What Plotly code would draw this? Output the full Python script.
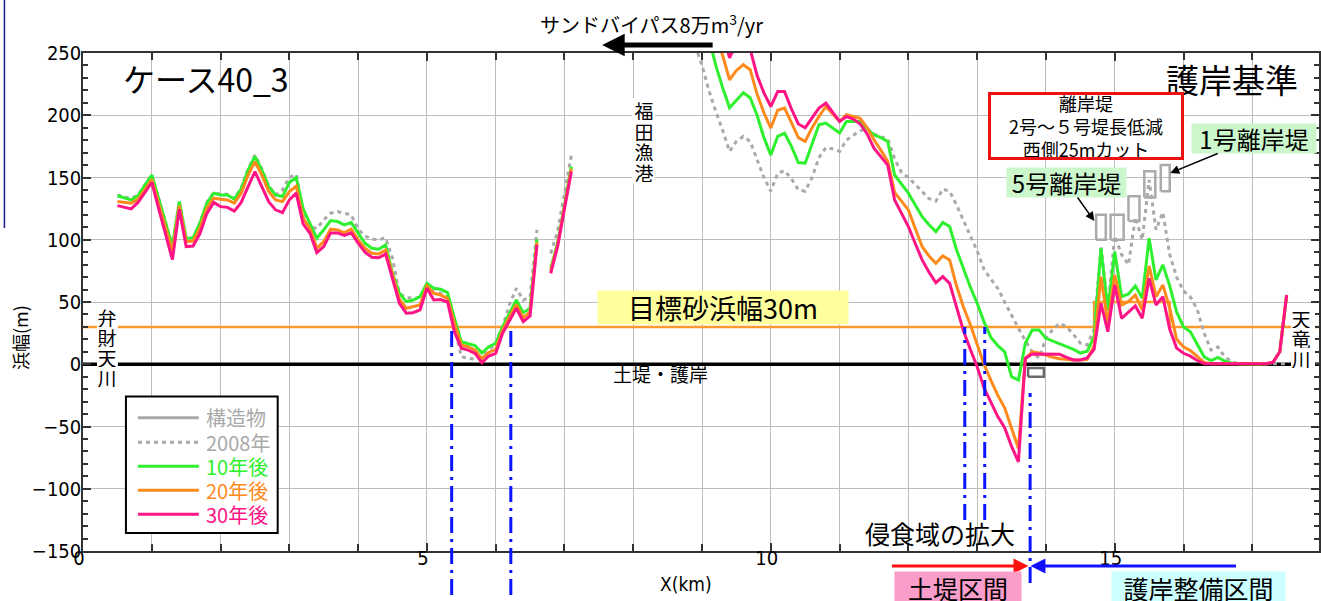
import plotly.graph_objects as go

# ---------------- survey data: beach width (m) vs alongshore distance X (km) ----------------
# western reach (Bentengawa side)
x_west = [0.5, 0.6, 0.7, 0.8, 0.9, 1.0,
          1.1, 1.2, 1.3, 1.4, 1.5, 1.6, 1.7, 1.8, 1.9, 2.0,
          2.1, 2.2, 2.3, 2.4, 2.5, 2.6, 2.7, 2.8, 2.9, 3.0,
          3.1, 3.2, 3.3, 3.4, 3.5, 3.6, 3.7, 3.8, 3.9, 4.0,
          4.1, 4.2, 4.3, 4.4, 4.5, 4.6, 4.7, 4.8, 4.9, 5.0,
          5.1, 5.2, 5.3, 5.4, 5.5, 5.6, 5.7, 5.8, 5.9, 6.0,
          6.1, 6.2, 6.3, 6.4, 6.5, 6.6]
w2008_west = [136, 134.5, 133, 136, 144, 152.5,
              133.5, 114, 95, 131, 101.5, 101.5, 113.5, 130, 138, 136.5,
              136.5, 133, 141.5, 157, 168, 157, 143.5, 136, 140, 150,
              152.5, 124, 110.6, 109, 116, 121.3, 122.6, 121.3, 120, 108.5,
              103, 100.5, 100, 101.5, 85, 57, 53.5, 53, 53.8, 63,
              58, 57, 54, 30, 6, 4.8, 4, 6, 11, 16.8,
              30, 48, 61, 51.6, 54, 108]
w10_west = [135.3, 133.5, 132, 135.5, 143.5, 152,
            133, 113.5, 94.5, 130.7, 101.2, 101.5, 113.3, 129.4, 137.4, 136,
            136, 132.6, 141, 156, 166.9, 156, 142.7, 136, 134.7, 146,
            150, 125, 113, 101.2, 108, 115.4, 114.6, 112, 113.8, 105.2,
            97.2, 93.2, 92.4, 95.8, 73, 57, 50.3, 51.6, 54.3, 65,
            61, 60.2, 57.5, 37, 18.1, 16.5, 15, 9.2, 14.1, 16.8,
            30, 40.9, 51.6, 41.4, 45, 100.4]
w20_west = [130.7, 130, 129.4, 132.5, 140, 148.4,
            129, 110, 90.5, 127.5, 98.5, 99, 109.3, 125.4, 133.4, 132.6,
            132, 129.4, 137.4, 152, 162.6, 152, 138.7, 132, 130.7, 138.7,
            143, 117.3, 109, 93.2, 98.5, 108.5, 107.9, 105.7, 108.5, 99.9,
            93.2, 89.2, 88.6, 91.8, 71, 52.2, 45, 46.2, 47.6, 62.9,
            57, 55.6, 53, 33, 15.5, 14, 11.5, 4.5, 9.5, 12,
            27.5, 38, 48, 37.5, 42, 98]
w30_west = [127.4, 126, 124.8, 130, 138, 146,
            125, 104.5, 84, 124.5, 94.5, 95, 105, 121, 130, 126.6,
            126, 123, 130, 142.7, 154.8, 142.7, 130.6, 124, 121.8, 132,
            137.4, 112.7, 105.2, 89.7, 94.5, 105.5, 105.5, 103.5, 105.5, 97.2,
            90, 86, 85.5, 88.5, 69, 49, 41, 41.4, 43.6, 61,
            51.6, 52, 50, 26, 12.8, 11.4, 8.8, 1.2, 6.6, 8.8,
            24.8, 35.5, 45, 34.2, 38.8, 95.8]

# short reach just west of Fukuda fishing port
x_mid = [6.8, 6.9, 7.0, 7.1]
w2008_mid = [89, 107, 137, 168]
w10_mid = [77, 97.2, 128, 158.8]
w20_mid = [75, 96, 126.5, 157]
w30_mid = [73, 94.5, 125, 154.8]

# eastern reach (Fukuda port to Tenryu river)
x_east = [8.9, 9.0, 9.1, 9.2, 9.3, 9.4, 9.5, 9.6, 9.7, 9.8, 9.9,
          10.0, 10.1, 10.2, 10.3, 10.4, 10.5, 10.6, 10.7, 10.8, 10.9,
          11.0, 11.1, 11.2, 11.3, 11.4, 11.5, 11.6, 11.7, 11.8, 11.9,
          12.0, 12.1, 12.2, 12.3, 12.4, 12.5, 12.6, 12.7, 12.8, 12.9,
          13.0, 13.1, 13.2, 13.3, 13.4, 13.5, 13.6, 13.7, 13.8, 13.9,
          14.0, 14.1, 14.2, 14.3, 14.4, 14.5, 14.6, 14.7, 14.8, 14.9,
          15.0, 15.1, 15.2, 15.3, 15.4, 15.5, 15.6, 15.7, 15.8, 15.9,
          16.0, 16.1, 16.2, 16.3, 16.4, 16.5, 16.6, 16.7, 16.8, 16.9,
          17.0, 17.1, 17.2, 17.3, 17.4, 17.5]
w2008_east = [256, 240, 220, 203, 188, 171, 179, 183, 179, 165, 150,
              139, 153.5, 155.5, 149, 140, 139, 150, 166, 174, 173,
              171, 180, 184, 187.5, 189.5, 185, 182.5, 181, 165, 154,
              150, 144, 138.7, 133, 131, 140.6, 139, 128, 116, 103,
              91, 76, 68, 61, 50, 39, 29, 19, 10, 5,
              20.8, 28, 33, 30, 24, 17, 15.5, 28, 95, 45,
              103, 88, 80, 118, 100, 148, 108, 122, 88, 70,
              59, 54, 44, 25, 11.4, 14, 6, 2, 0.5, 0.3,
              0.3, 0.3, 0.3, 0.5, 0.5, 0.5]
w10_east = [300, 285, 262, 240, 222, 206, 212, 218, 214, 200, 182,
            168, 183, 185.5, 175, 162, 161.5, 177, 192.3, 193.7, 189.5,
            185.7, 195, 195, 195, 189, 184.3, 182, 179, 152, 145,
            137.4, 128, 118.6, 112, 106.5, 113.8, 110.6, 92, 77, 62,
            49, 34, 21.5, 15, 10, -10, -12.7, 16.8, 27.5, 27.5,
            20.8, 18.5, 16.5, 14, 12, 9, 10.5, 22, 93.2, 43.6,
            90.5, 54.3, 56.5, 63, 53, 101.2, 67.7, 79.8, 63, 42,
            30, 26.1, 16, 6, 3, 5.5, 2.5, 1, 0.5, 0.3,
            0.3, 0.3, 0.5, 1.5, 10, 55.6]
w20_east = [330, 310, 285, 262, 248, 228.5, 236, 240.6, 236.6, 217, 202,
            189.7, 204, 205.8, 194, 182, 179, 190, 199, 207, 201,
            195, 200.4, 199, 197.5, 190, 180.3, 172, 163, 138, 131,
            124, 109, 94.5, 87, 81.1, 87, 83.8, 63, 46, 32,
            16, 0, -13, -25, -35, -52, -67.6, 4.7, 10, 9,
            7, 5.5, 4.5, 3.8, 3.4, 3.5, 4, 15, 70.4, 32.9,
            71.7, 47.6, 50.3, 55.6, 43.6, 79, 54.3, 63.7, 45, 20,
            14, 11, 6, 1.5, 0.5, 0.5, 0.5, 0.5, 0.5, 0.3,
            0.3, 0.3, 0.5, 1.5, 10, 55.6]
w30_east = [360, 340, 315, 290, 268, 246, 258, 262, 253, 232, 218,
            207, 219, 219, 205, 193, 190, 198, 205.8, 209.8, 202,
            195, 199, 197, 193, 185, 173.6, 167, 160, 132, 121,
            110.6, 97, 83.8, 74, 65.5, 70.4, 65, 46, 27, 12,
            -2, -19, -30, -42, -51, -66, -78.4, 4.7, 8.2, 8.2,
            8.2, 8.2, 8, 5.5, 3.5, 3.4, 5, 12, 49, 26.1,
            63.7, 36.9, 42.2, 46.8, 36.9, 69, 47.6, 54.3, 28, 13,
            8.8, 6.5, 3, 0.5, 0.5, 0.5, 0.5, 0.5, 0.5, 0.3,
            0.3, 0.3, 0.5, 1.5, 10, 55.6]

# target beach width (raised behind the detached breakwaters)
target_x = [0, 14.7, 14.7, 15.8, 15.8, 17.97]
target_y = [30, 30, 50, 50, 30, 30]
# seawall / embankment reference line
wall_x = [0, 17.97]
wall_y = [0, 0]

# detached breakwaters No.5 ... No.1 (km, m)
bw_x0 = [14.73, 14.94, 15.20, 15.43, 15.67]
bw_x1 = [14.87, 15.13, 15.36, 15.59, 15.80]
bw_y0 = [100, 100, 115, 134, 139]
bw_y1 = [120, 120, 135, 155, 160]
# small structure at the end of the embankment section
st_x0, st_x1 = [13.74], [13.97]
st_y0, st_y1 = [-10], [-3]

# vertical markers: where the shoreline reaches the 30 m target
mark_x = [5.36, 6.22, 12.82, 13.11, 13.77]

# ---------------- styling ----------------
JP = "Noto Sans CJK JP"
NUM = "Liberation Sans Narrow, DejaVu Sans Condensed, Noto Sans CJK JP"
C08, C10, C20, C30 = "#a9a9a9", "#2ef02e", "#ff8a1c", "#ff1485"
CST = "#aaaaaa"

W, H = 1321, 601
L, R, T, B = 83, 0, 53, 50
PW, PH = W - L - R, H - T - B


def px(x):
    return (x - L) / PW


def py(y):
    return (T + PH - y) / PH


def yp(v):
    # data value on y axis -> paper fraction
    return (v + 150) / 400


def rects(x0, x1, y0, y1):
    xs, ys = [], []
    for a, b, c, d in zip(x0, x1, y0, y1):
        xs += [a, b, b, a, a, None]
        ys += [c, c, d, d, c, None]
    return xs, ys


fig = go.Figure()

fig.add_trace(go.Scatter(x=target_x, y=target_y, mode="lines",
                         line=dict(color="#ff9a2e", width=2.5), hoverinfo="skip"))
fig.add_trace(go.Scatter(x=wall_x, y=wall_y, mode="lines",
                         line=dict(color="black", width=3.5), hoverinfo="skip"))

series = [
    (w2008_west, w2008_mid, w2008_east, C08, "4px,4px"),
    (w10_west, w10_mid, w10_east, C10, "solid"),
    (w20_west, w20_mid, w20_east, C20, "solid"),
    (w30_west, w30_mid, w30_east, C30, "solid"),
]
for wv, mv, ev, col, dash in series:
    xs = x_west + [None] + x_mid + [None] + x_east
    ys = wv + [None] + mv + [None] + ev
    fig.add_trace(go.Scatter(x=xs, y=ys, mode="lines", connectgaps=False,
                             line=dict(color=col, width=3, dash=dash)))

bx, by = rects(bw_x0, bw_x1, bw_y0, bw_y1)
fig.add_trace(go.Scatter(x=bx, y=by, mode="lines", line=dict(color=CST, width=2.5)))
sx, sy = rects(st_x0, st_x1, st_y0, st_y1)
fig.add_trace(go.Scatter(x=sx, y=sy, mode="lines", line=dict(color="#6a6a6a", width=2.5)))

shapes = []
# blue dash-dot markers
mark_ranges = [(py(595), yp(30)), (py(595), yp(30)), (py(520), yp(30)),
               (py(520), yp(30)), (py(583), yp(-23))]
for xm, (ya, yb) in zip(mark_x, mark_ranges):
    shapes.append(dict(type="line", xref="x", yref="paper", x0=xm, x1=xm, y0=ya, y1=yb,
                       line=dict(color="#0a14ff", width=3, dash="16px,6px,3px,6px"),
                       layer="above"))

# legend box
shapes.append(dict(type="rect", xref="paper", yref="paper",
                   x0=px(126), x1=px(278), y0=py(533), y1=py(396.5),
                   line=dict(color="black", width=2), fillcolor="white", layer="above"))
legend_rows = [("構造物", C08, "solid"), ("2008年", C08, "dot"),
               ("10年後", C10, "solid"), ("20年後", C20, "solid"), ("30年後", C30, "solid")]
legend_y = [417.7, 442.3, 466.2, 490.3, 514.3]

# frame line on the left page edge
shapes.append(dict(type="line", xref="paper", yref="paper", x0=px(4.3), x1=px(4.3),
                   y0=py(0), y1=py(228), line=dict(color="#1a1a8c", width=1.5)))

ann = []


def note(text, xc, yc, size, color="black", **kw):
    d = dict(text=text, x=px(xc), y=py(yc), xref="paper", yref="paper", showarrow=False,
             xanchor="center", yanchor="middle",
             font=dict(size=size, family=JP, color=color))
    d.update(kw)
    return d


for (name, col, dash), yr in zip(legend_rows, legend_y):
    shapes.append(dict(type="line", xref="paper", yref="paper", x0=px(138), x1=px(199),
                       y0=py(yr), y1=py(yr),
                       line=dict(color=col, width=3, dash="4px,4px" if dash == "dot" else "solid"),
                       layer="above"))
    ann.append(dict(text=name, x=px(204), y=py(yr), xref="paper", yref="paper",
                    showarrow=False, xanchor="left", yanchor="middle",
                    font=dict(size=20, family=JP, color=col)))

# titles
ann.append(note("ケース40_3", 206, 78, 32))
ann.append(note("護岸基準", 1234, 79, 33))
ann.append(note("サンドバイパス8万m<sup>3</sup>/yr", 652, 24, 20))
ann.append(dict(text="", x=px(603), y=py(45), xref="paper", yref="paper",
                showarrow=True, ax=112, ay=0, arrowhead=2, arrowsize=0.9,
                arrowwidth=5, arrowcolor="black"))

# vertical place names on white strips that hide the lines behind them
for chars, xc, y0, pitch, (bx0, bx1, by0, by1) in [
        ("福田漁港", 644.5, 110, 20.5, (633, 656, 98, 184)),
        ("弁財天川", 107.5, 317, 20, (97, 118, 305, 390)),
        ("天竜川", 1303, 318, 20, (1293, 1317, 306, 370))]:
    shapes.append(dict(type="rect", xref="paper", yref="paper",
                       x0=px(bx0), x1=px(bx1), y0=py(by1), y1=py(by0),
                       line=dict(width=0), fillcolor="white", layer="above"))
    for i, ch in enumerate(chars):
        ann.append(note(ch, xc, y0 + i * pitch, 19, width=22, height=20, borderpad=0))

ann.append(note("目標砂浜幅30m", 724, 307.5, 27, bgcolor="#ffff9e", width=250, height=33,
                borderpad=0))
ann.append(note("土堤・護岸", 661, 373, 19))
ann.append(note("侵食域の拡大", 941, 533, 25))

ann.append(note("離岸堤<br>2号～５号堤長低減<br>西側25mカット", 1088, 126, 18,
                bgcolor="white", bordercolor="#ee1111", borderwidth=3, borderpad=0,
                width=190, height=62))
# breakwater labels with arrows pointing at the structures
ann.append(dict(text="5号離岸堤", x=px(1096), y=py(221), xref="paper", yref="paper",
                showarrow=True, ax=1068.5 - 1096, ay=182.5 - 221,
                arrowhead=2, arrowsize=1.2, arrowwidth=1.5, arrowcolor="black",
                bgcolor="#ccf7cc", width=119, height=29, borderpad=0,
                font=dict(size=24, family=JP, color="black")))
ann.append(dict(text="1号離岸堤", x=px(1172), y=py(173), xref="paper", yref="paper",
                showarrow=True, ax=1256 - 1172, ay=138.5 - 173,
                arrowhead=2, arrowsize=1.2, arrowwidth=1.5, arrowcolor="black",
                bgcolor="#ccf7cc", width=124, height=29, borderpad=0,
                font=dict(size=24, family=JP, color="black")))

# sections below the axis
ann.append(dict(text="", x=px(1030), y=py(566), xref="paper", yref="paper", showarrow=True,
                ax=-138, ay=0, arrowhead=2, arrowsize=1, arrowwidth=3, arrowcolor="#ff1010"))
ann.append(dict(text="", x=px(1032), y=py(566), xref="paper", yref="paper", showarrow=True,
                ax=207, ay=0, arrowhead=2, arrowsize=1, arrowwidth=3, arrowcolor="#1010ff"))
ann.append(note("土堤区間", 959, 588, 25, bgcolor="#f99dca", width=126, height=32, borderpad=0))
ann.append(note("護岸整備区間", 1200.5, 588, 25, bgcolor="#ccffff", width=173, height=32,
                borderpad=0))

# axis titles
ann.append(dict(text="X(km)", x=px(687), y=py(584), xref="paper", yref="paper",
                showarrow=False, xanchor="center", yanchor="middle",
                font=dict(size=19, family=NUM, color="black")))
ann.append(dict(text="浜幅(m)", x=px(20), y=py(338), xref="paper", yref="paper",
                showarrow=False, xanchor="center", yanchor="middle", textangle=-90,
                font=dict(size=18, family=JP, color="black")))

fig.update_layout(
    width=W, height=H, autosize=False,
    margin=dict(l=L, r=R, t=T, b=B),
    paper_bgcolor="white", plot_bgcolor="white",
    showlegend=False,
    shapes=shapes, annotations=ann,
    font=dict(family=JP, color="black"),
)
fig.update_xaxes(
    range=[0, 17.97], tick0=0, dtick=5, ticks="inside", ticklen=8, tickwidth=1.5,
    tickcolor="#333", showline=True, linecolor="#333", linewidth=1.5, mirror="allticks",
    showgrid=True, gridcolor="#bdbdbd", gridwidth=1, zeroline=False,
    tickfont=dict(size=20, family=NUM, color="black"), ticklabelshift=-4,
    ticklabelstandoff=-12,
    minor=dict(dtick=1, tick0=0, ticks="inside", ticklen=7, tickcolor="#333",
               showgrid=True, gridcolor="#bdbdbd", gridwidth=1),
)
fig.update_yaxes(
    range=[-150, 250], tick0=0, dtick=50, ticks="inside", ticklen=8, tickwidth=1.5,
    tickcolor="#333", showline=True, linecolor="#333", linewidth=1.5, mirror="allticks",
    showgrid=True, gridcolor="#bdbdbd", gridwidth=1, zeroline=False,
    tickfont=dict(size=20, family=NUM, color="black"), ticklabelstandoff=-4,
    minor=dict(dtick=10, ticks="inside", ticklen=5, tickcolor="#333", showgrid=False),
)

fig.write_html("out.html")
